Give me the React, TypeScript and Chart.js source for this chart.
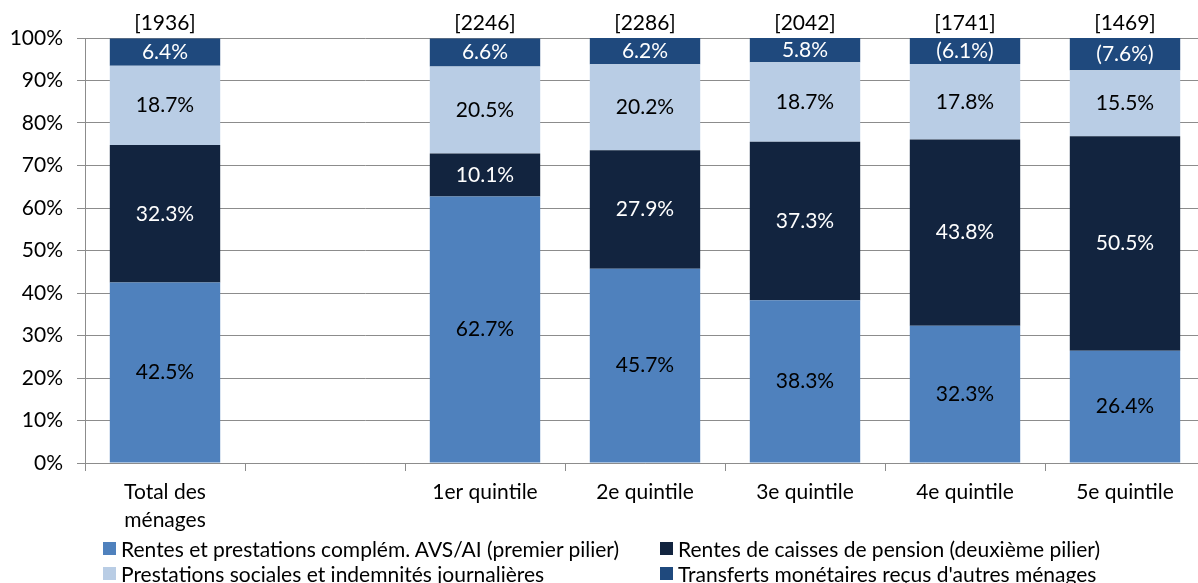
import React, { useEffect, useRef } from "react";
import { Chart, registerables } from "chart.js";

Chart.register(...registerables);

// ---- data ----
const categories: (string | string[])[] = [
  ["Total des", "ménages"],
  "",
  "1er quintile",
  "2e quintile",
  "3e quintile",
  "4e quintile",
  "5e quintile",
];
const sampleSizes = ["[1936]", "", "[2246]", "[2286]", "[2042]", "[1741]", "[1469]"];

const avsAi = [42.5, null, 62.7, 45.7, 38.3, 32.3, 26.4];
const pension = [32.3, null, 10.1, 27.9, 37.3, 43.8, 50.5];
const sociales = [18.7, null, 20.5, 20.2, 18.7, 17.8, 15.5];
const transferts = [6.4, null, 6.6, 6.2, 5.8, 6.1, 7.6];
// values shown in parentheses (small sample)
const transfertsParen = [false, false, false, false, false, true, true];

const seriesLabels = [
  "Rentes et prestations complém. AVS/AI (premier pilier)",
  "Rentes de caisses de pension (deuxième pilier)",
  "Prestations sociales et indemnités journalières",
  "Transferts monétaires reçus d'autres ménages",
];
const seriesColors = ["#4F81BD", "#12243F", "#B9CDE5", "#1F497D"];
const valueTextColors = ["#000000", "#FFFFFF", "#000000", "#FFFFFF"];

const yMin = 0;
const yMax = 100;
const yStep = 10;

const FONT = "Lato, 'Open Sans', sans-serif";
const FS = 21;
const GRID = "#8C8C8C";

const valueLabelsPlugin = {
  id: "valueLabels",
  afterDatasetsDraw(chart: any) {
    const ctx = chart.ctx;
    ctx.save();
    ctx.font = `${FS}px ${FONT}`;
    ctx.textAlign = "center";
    ctx.textBaseline = "middle";
    chart.data.datasets.forEach((ds: any, di: number) => {
      const meta = chart.getDatasetMeta(di);
      meta.data.forEach((el: any, i: number) => {
        const v = ds.data[i];
        if (v == null) return;
        let txt = v.toFixed(1) + "%";
        if (di === 3 && transfertsParen[i]) txt = "(" + txt + ")";
        ctx.fillStyle = valueTextColors[di];
        ctx.fillText(txt, el.x, (el.y + el.base) / 2);
      });
    });
    // sample sizes above bars
    const xs = chart.scales.x;
    ctx.fillStyle = "#000000";
    sampleSizes.forEach((s, i) => {
      if (!s) return;
      ctx.fillText(s, xs.getPixelForValue(i), chart.chartArea.top - 15);
    });
    ctx.restore();
  },
};

export default function App() {
  const ref = useRef<HTMLCanvasElement>(null);

  useEffect(() => {
    document.body.style.margin = "0";
    const seriesData = [avsAi, pension, sociales, transferts];
    const chart = new Chart(ref.current as HTMLCanvasElement, {
      type: "bar",
      data: {
        labels: categories as any,
        datasets: seriesData.map((d, i) => ({
          label: seriesLabels[i],
          data: d as any,
          backgroundColor: seriesColors[i],
          borderWidth: 0,
          barPercentage: 0.69,
          categoryPercentage: 1,
        })),
      },
      options: {
        responsive: false,
        animation: false,
        devicePixelRatio: 1,
        layout: { padding: { top: 38, right: 10, left: 0, bottom: 0 } },
        plugins: {
          legend: { display: false },
          tooltip: { enabled: false },
        },
        scales: {
          x: {
            stacked: true,
            offset: true,
            grid: {
              display: true,
              drawOnChartArea: false,
              drawTicks: true,
              tickLength: 8,
              offset: true,
              color: GRID,
            },
            border: { display: true, color: GRID },
            ticks: {
              color: "#000000",
              font: { family: FONT, size: FS, lineHeight: 1.33 },
              padding: 7,
              maxRotation: 0,
              autoSkip: false,
            },
            afterFit: (s: any) => {
              s.height = 120;
            },
          },
          y: {
            stacked: true,
            min: yMin,
            max: yMax,
            grid: {
              color: GRID,
              drawTicks: true,
              tickLength: 8,
            },
            border: { display: true, color: GRID },
            ticks: {
              stepSize: yStep,
              color: "#000000",
              font: { family: FONT, size: FS },
              padding: 14,
              callback: (v: any) => v + "%",
            },
            afterFit: (s: any) => {
              s.width = 85;
            },
          },
        },
      },
      plugins: [valueLabelsPlugin],
    });
    return () => chart.destroy();
  }, []);

  const legendPos = [
    { x: 103, y: 548 },
    { x: 660, y: 548 },
    { x: 103, y: 573 },
    { x: 660, y: 573 },
  ];

  return (
    <div
      style={{
        position: "absolute",
        left: 0,
        top: 0,
        width: 1198,
        height: 583,
        overflow: "hidden",
        background: "#ffffff",
      }}
    >
      <canvas ref={ref} width={1215} height={583} style={{ display: "block", width: 1215, height: 583 }} />
      {seriesLabels.map((lab, i) => (
        <div
          key={i}
          style={{
            position: "absolute",
            left: legendPos[i].x,
            top: legendPos[i].y - 13,
            height: 26,
            display: "flex",
            alignItems: "center",
            whiteSpace: "nowrap",
            fontFamily: FONT,
            fontSize: FS,
            color: "#000000",
          }}
        >
          <span
            style={{
              display: "inline-block",
              width: 13,
              height: 13,
              background: seriesColors[i],
              marginRight: 5,
            }}
          />
          <span>{lab}</span>
        </div>
      ))}
    </div>
  );
}
